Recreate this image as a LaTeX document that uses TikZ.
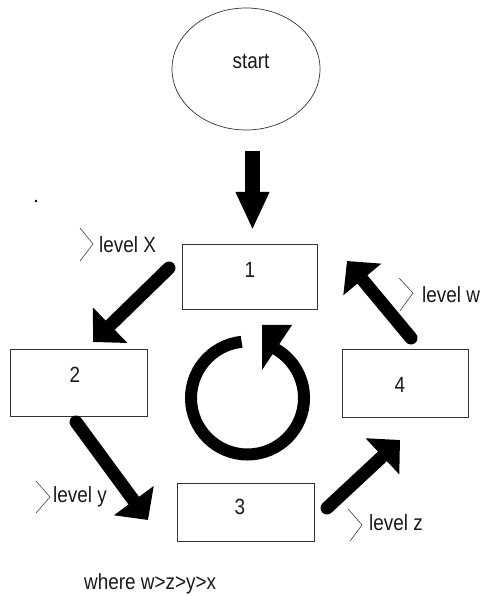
\documentclass[tikz,border=0pt]{standalone}
\usepackage{fontspec}
\setmainfont{Liberation Sans}
\usetikzlibrary{arrows.meta,shapes.geometric}
\newcommand\narrowtxt[1]{\scalebox{0.86}[1]{#1}}
\begin{document}
\begin{tikzpicture}[x=1pt,y=1pt,
  every node/.style={font=\fontsize{22}{24}\selectfont, text=black!90},
  box/.style={draw=black!80, line width=0.8pt, rectangle, inner sep=0pt},
  bigarrow/.style={line width=13pt, line cap=round, -{Triangle[width=48pt,length=24pt]}},
  downarrow/.style={line width=15pt, -{Triangle[width=31pt,length=38pt]}},
  chev/.style={line width=0.6pt, draw=black!75},
  lbl/.style={anchor=base west, inner sep=0pt}]
\useasboundingbox (0,0) rectangle (479,596);

% start ellipse
\node[ellipse, draw=black!80, line width=0.7pt, minimum width=148pt, minimum height=122pt, inner sep=0pt,
      label={[shift={(5pt,7pt)}]center:\narrowtxt{start}}] (start) at (246,527) {};

% boxes
\node[box, minimum width=135pt, minimum height=65pt, label={[shift={(0.5pt,6.5pt)}]center:\narrowtxt{1}}] (b1) at (249.5,319.5) {};
\node[box, minimum width=137pt, minimum height=67pt, label={[shift={(-3.5pt,7.5pt)}]center:\narrowtxt{2}}] (b2) at (78.5,213.5) {};
\node[box, minimum width=137pt, minimum height=58pt, label={[shift={(-5.5pt,5pt)}]center:\narrowtxt{3}}] (b3) at (245.5,84) {};
\node[box, minimum width=126pt, minimum height=68pt, label={[shift={(-5pt,-2pt)}]center:\narrowtxt{4}}] (b4) at (405,213) {};

% arrow end coordinates
\coordinate (d0) at (252.5,445);
\coordinate (d1) at (252.5,366);
\coordinate (a12s) at (169,328);
\coordinate (a12e) at (93,254);
\coordinate (a23s) at (76,174);
\coordinate (a23e) at (148,76);
\coordinate (a34s) at (327,88);
\coordinate (a34e) at (400,156);
\coordinate (a41s) at (411,258);
\coordinate (a41e) at (347,335);

\draw[downarrow] (d0) -- (d1);
\draw[bigarrow] (a12s) -- (a12e);
\draw[bigarrow] (a23s) -- (a23e);
\draw[bigarrow] (a34s) -- (a34e);
\draw[bigarrow] (a41s) -- (a41e);

% circular arrow
\coordinate (cc) at (247.5,198);
\draw[line width=12pt] ([shift={(96:56.5pt)}]cc) arc[start angle=96, end angle=421, radius=56.5pt];
\fill (262,271) -- (262,226) -- (292,271) -- cycle;

% level labels
\draw[chev] (80,368) -- (93,352) -- (80,335);
\node[lbl] (lx) at (99,343) {\narrowtxt{level X}};
\draw[chev] (36,115) -- (50,99) -- (36,83);
\node[lbl] (ly) at (53,93) {\narrowtxt{level y}};
\draw[chev] (348,87) -- (362,71) -- (350,55);
\node[lbl] (lz) at (369,65) {\narrowtxt{level z}};
\draw[chev] (399,318) -- (413,303) -- (400,285);
\node[lbl] (lw) at (422,293) {\narrowtxt{level w}};

% note
\node[lbl] (note) at (84,6) {\narrowtxt{where w>z>y>x}};

% stray dot
\fill (36,395) circle[radius=1.3pt];
\end{tikzpicture}
\end{document}
